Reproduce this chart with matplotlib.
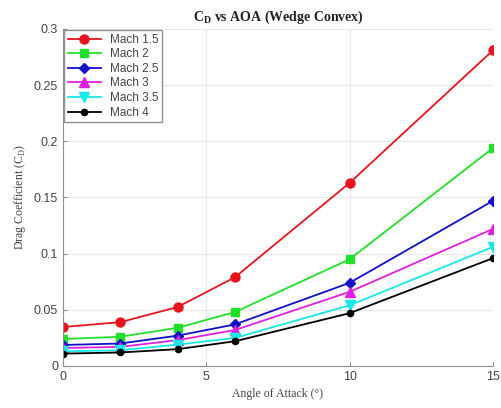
import numpy as np
import matplotlib.pyplot as plt

aoa = [0, 2, 4, 6, 10, 15]
mach_labels = ['Mach 1.5', 'Mach 2', 'Mach 2.5', 'Mach 3', 'Mach 3.5', 'Mach 4']
cd_m15 = [0.0347, 0.039, 0.0525, 0.079, 0.163, 0.281]
cd_m20 = [0.024, 0.026, 0.034, 0.048, 0.095, 0.194]
cd_m25 = [0.0187, 0.020, 0.027, 0.037, 0.074, 0.147]
cd_m30 = [0.016, 0.017, 0.023, 0.032, 0.066, 0.122]
cd_m35 = [0.013, 0.014, 0.019, 0.025, 0.054, 0.106]
cd_m40 = [0.011, 0.012, 0.015, 0.022, 0.047, 0.096]

series = [cd_m15, cd_m20, cd_m25, cd_m30, cd_m35, cd_m40]
colors = ['#e8141c', '#22e02a', '#1010c8', '#e020e0', '#18e8e8', '#000000']
markers = ['o', 's', 'D', '^', 'v', 'o']
msizes = [6.5, 5.5, 5.5, 6.5, 6.5, 4.5]

fig = plt.figure(figsize=(5.02, 4.08), dpi=100)
ax = fig.add_axes([0.1255, 0.103, 0.8565, 0.826])

for y, lab, c, m, ms in zip(series, mach_labels, colors, markers, msizes):
    ax.plot(aoa, y, color=c, marker=m, markersize=ms, linewidth=1.3, label=lab)

ax.set_xlim(0, 15)
ax.set_ylim(0, 0.3)
ax.set_xticks([0, 5, 10, 15])
ax.set_yticks([0, 0.05, 0.1, 0.15, 0.2, 0.25, 0.3])
ax.set_yticklabels(['0', '0.05', '0.1', '0.15', '0.2', '0.25', '0.3'])
ax.grid(True, color='#e6e6e6', linewidth=0.8)
ax.set_axisbelow(True)
for s in ['top', 'right']:
    ax.spines[s].set_visible(False)
for s in ['left', 'bottom']:
    ax.spines[s].set_color('#909090')
ax.tick_params(direction='in', length=3, colors='#909090', labelcolor='#444444', labelsize=9)
for t in ax.get_xticklabels() + ax.get_yticklabels():
    t.set_family('Liberation Sans')

ax.set_title('C$_\\mathregular{D}$ vs AOA (Wedge Convex)', family='Liberation Serif',
             fontweight='bold', fontsize=10, color='#222222')
ax.set_xlabel('Angle of Attack (°)', family='Liberation Serif', fontsize=8.5, color='#444444')
ax.set_ylabel('Drag Coefficient (C$_\\mathregular{D}$)', family='Liberation Serif', fontsize=8.5, color='#444444')

leg = ax.legend(loc='upper left', prop={'family': 'Liberation Sans', 'size': 8.5},
                fancybox=False, edgecolor='#909090', framealpha=1, borderaxespad=0.1,
                handlelength=2.8, labelspacing=0.22, borderpad=0.3)
for t in leg.get_texts():
    t.set_color('#444444')

fig.savefig('out.png', dpi=100)
